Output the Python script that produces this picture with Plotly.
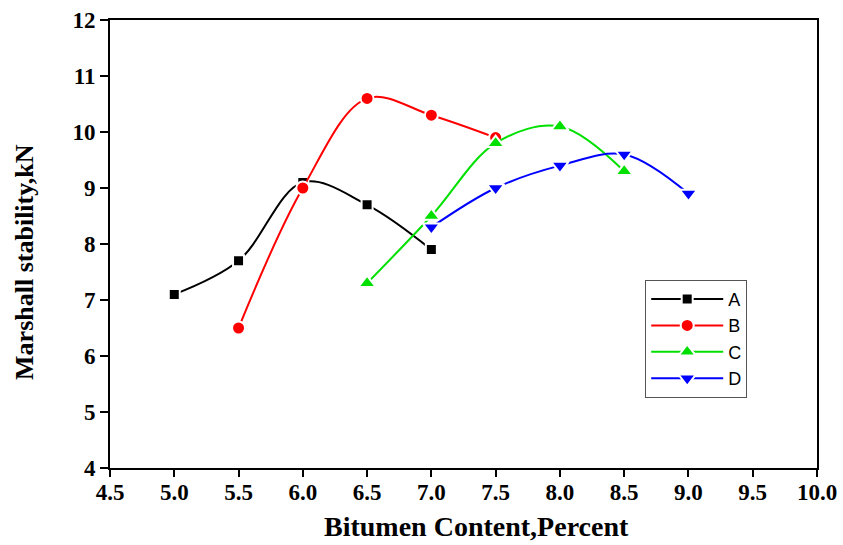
import plotly.graph_objects as go

# Bitumen content (%) for each mix and measured Marshall stability (kN)
x_a = [5.0, 5.5, 6.0, 6.5, 7.0]
y_a = [7.1, 7.7, 9.1, 8.7, 7.9]

x_b = [5.5, 6.0, 6.5, 7.0, 7.5]
y_b = [6.5, 9.0, 10.6, 10.3, 9.9]

x_c = [6.5, 7.0, 7.5, 8.0, 8.5]
y_c = [7.3, 8.5, 9.8, 10.1, 9.3]

x_d = [7.0, 7.5, 8.0, 8.5, 9.0]
y_d = [8.3, 9.0, 9.4, 9.6, 8.9]

x_ticks = [4.5, 5.0, 5.5, 6.0, 6.5, 7.0, 7.5, 8.0, 8.5, 9.0, 9.5, 10.0]
y_ticks = [4, 5, 6, 7, 8, 9, 10, 11, 12]

x_title = "Bitumen Content,Percent"
y_title = "Marshall stability,kN"

series = [
    ("A", x_a, y_a, "#000000", "square", 11),
    ("B", x_b, y_b, "#ff0000", "circle", 13),
    ("C", x_c, y_c, "#00e000", "triangle-up", 15),
    ("D", x_d, y_d, "#0000ff", "triangle-down", 15),
]

fig = go.Figure()
for name, xs, ys, color, symbol, size in series:
    fig.add_trace(go.Scatter(
        x=xs, y=ys, name=name, mode="lines+markers",
        line=dict(color=color, width=2, shape="spline", smoothing=1.0),
        marker=dict(symbol=symbol, size=size, color=color,
                    line=dict(color="white", width=2)),
    ))

title_font = dict(family="Liberation Serif", color="black", weight="bold")
tick_font = dict(family="Liberation Serif", size=23, color="black", weight="bold")

fig.update_layout(
    width=843, height=545,
    margin=dict(l=110, r=26, t=20, b=77),
    paper_bgcolor="white", plot_bgcolor="white",
    showlegend=True,
    legend=dict(
        x=0.757, y=0.42, xanchor="left", yanchor="top",
        bordercolor="#555555", borderwidth=1, bgcolor="white",
        font=dict(family="Liberation Sans", size=18, color="black"),
        tracegroupgap=0, itemwidth=72,
    ),
    annotations=[
        dict(text=x_title, xref="paper", yref="paper", x=0.519, y=-0.1295,
             xanchor="center", yanchor="middle", showarrow=False,
             font=dict(size=28, **title_font)),
        dict(text=y_title, xref="paper", yref="paper", x=-0.1202, y=0.46,
             xanchor="center", yanchor="middle", showarrow=False,
             textangle=-90, font=dict(size=26, **title_font)),
    ],
)

fig.update_xaxes(
    range=[4.5, 10.0], tickvals=x_ticks,
    ticktext=[f"{v:.1f}" for v in x_ticks], tickfont=tick_font,
    ticklabelstandoff=-5, ticklabeloverflow="allow",
    ticks="outside", ticklen=7, tickwidth=1.5, tickcolor="black",
    showline=True, linecolor="black", linewidth=2, mirror=True,
    showgrid=False, zeroline=False, automargin=False,
)
fig.update_yaxes(
    range=[4, 12], tickvals=y_ticks, ticktext=[str(v) for v in y_ticks],
    tickfont=tick_font, ticklabeloverflow="allow",
    ticks="outside", ticklen=8, tickwidth=1.5, tickcolor="black",
    showline=True, linecolor="black", linewidth=2, mirror=True,
    showgrid=False, zeroline=False, automargin=False,
)

fig.write_html("out.html")
